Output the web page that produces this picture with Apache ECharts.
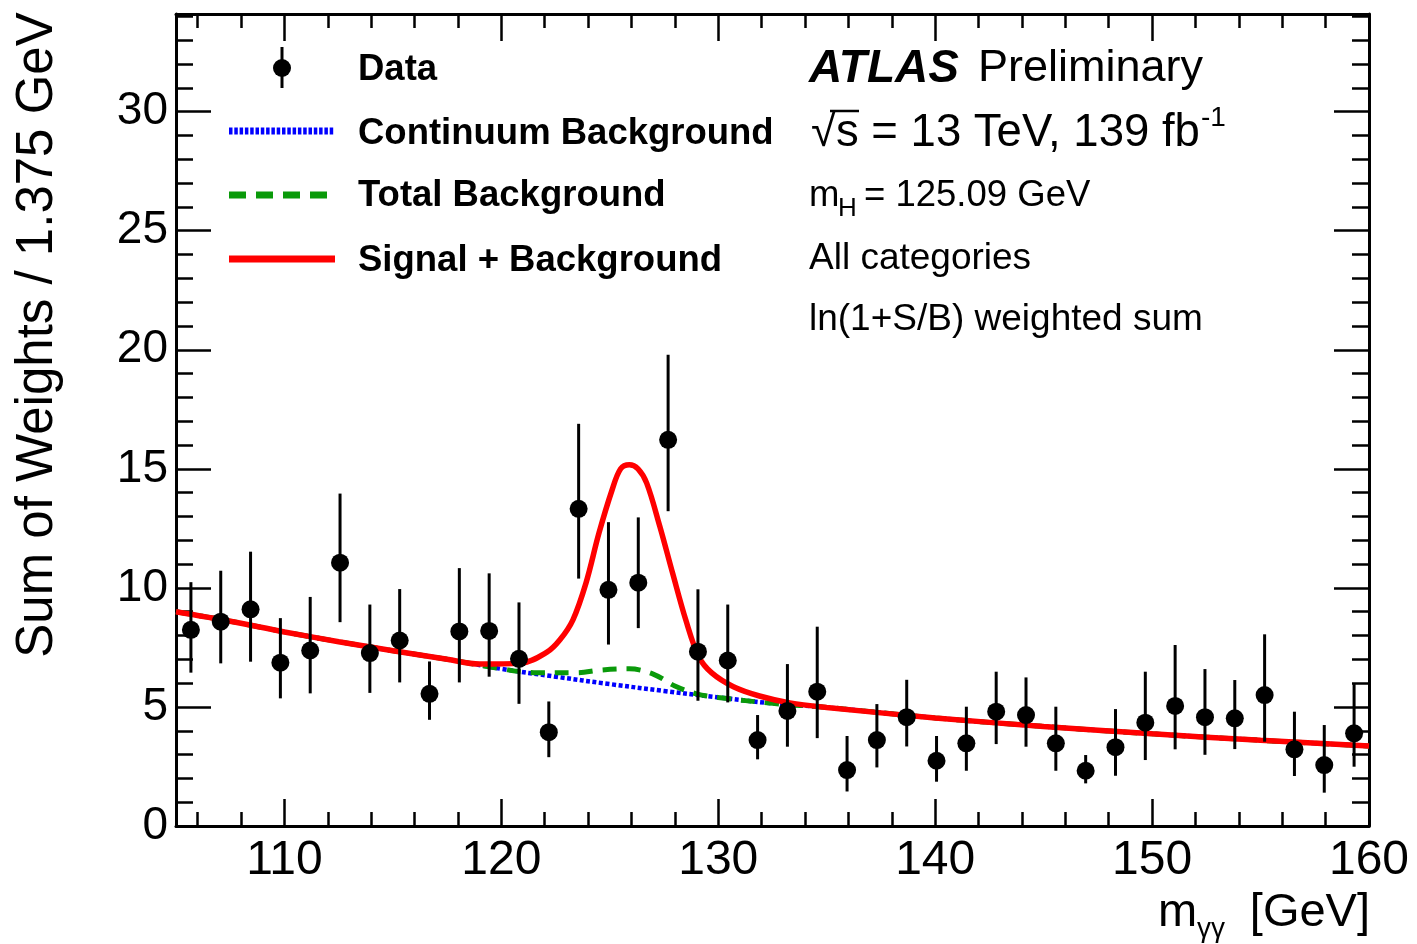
<!DOCTYPE html>
<html><head><meta charset="utf-8">
<script src="https://cdn.jsdelivr.net/npm/echarts@6/dist/echarts.min.js"></script>
<style>html,body{margin:0;padding:0;background:#fff}#c{width:1417px;height:944px}</style>
</head><body><div id="c"></div>
<script>
// ---- data ----
const binCenters = [105.6875, 107.0625, 108.4375, 109.8125, 111.1875, 112.5625, 113.9375, 115.3125, 116.6875, 118.0625,
  119.4375, 120.8125, 122.1875, 123.5625, 124.9375, 126.3125, 127.6875, 129.0625, 130.4375, 131.8125,
  133.1875, 134.5625, 135.9375, 137.3125, 138.6875, 140.0625, 141.4375, 142.8125, 144.1875, 145.5625,
  146.9375, 148.3125, 149.6875, 151.0625, 152.4375, 153.8125, 155.1875, 156.5625, 157.9375, 159.3125];
const dataY = [8.24, 8.58, 9.10, 6.86, 7.37, 11.06, 7.26, 7.79, 5.55, 8.17,
  8.19, 7.02, 3.94, 13.32, 9.92, 10.22, 16.22, 7.32, 6.95, 3.61,
  4.83, 5.64, 2.35, 3.61, 4.57, 2.74, 3.47, 4.80, 4.66, 3.47,
  2.32, 3.31, 4.34, 5.04, 4.57, 4.52, 5.50, 3.22, 2.56, 3.89];
const errUp = [2.0, 2.14, 2.42, 1.87, 2.25, 2.9, 2.04, 2.16, 1.36, 2.66,
  2.42, 2.37, 1.29, 3.57, 2.84, 2.74, 3.57, 2.62, 2.35, 1.05,
  1.97, 2.73, 1.43, 1.51, 1.57, 1.04, 1.54, 1.68, 1.58, 1.54,
  0.66, 1.6, 2.14, 2.56, 2.02, 1.61, 2.55, 1.58, 1.68, 2.07];
const errDown = [1.8, 1.75, 2.2, 1.5, 1.8, 2.5, 1.67, 1.76, 1.09, 2.14,
  1.92, 1.89, 1.05, 2.93, 2.3, 1.91, 3.0, 2.06, 1.76, 0.81,
  1.5, 1.95, 0.9, 1.15, 1.23, 0.88, 1.15, 1.36, 1.33, 1.15,
  0.53, 1.2, 1.57, 1.82, 1.58, 1.29, 1.96, 1.12, 1.16, 1.4];

const contX = [105, 107.5, 110, 112.5, 115, 117.5, 120, 122.5, 125, 127.5, 130, 132.5, 135, 140, 145, 150, 155, 160];
const contY = [9.0, 8.6, 8.15, 7.74, 7.36, 7.0, 6.6, 6.27, 5.96, 5.67, 5.4, 5.15, 4.98, 4.54, 4.18, 3.87, 3.6, 3.36];

const totX = [105, 107.5, 110, 112.5, 115, 117.5, 120, 121.5, 123.5, 124.6, 125.9, 127, 128, 129, 130, 132.5, 135, 140, 145, 150, 155, 160];
const totY = [9.0, 8.6, 8.15, 7.74, 7.36, 7.0, 6.6, 6.44, 6.44, 6.55, 6.6, 6.38, 5.88, 5.55, 5.4, 5.15, 4.98, 4.54, 4.18, 3.87, 3.6, 3.36];

const sbX = [105, 107.5, 110, 112.5, 115, 117.5, 119, 120.9, 122.1, 122.7, 123.3, 123.9, 124.5, 125.1, 125.5, 125.9,
  126.3, 126.7, 127.3, 127.9, 128.5, 129.1, 129.7, 130.7, 131.9, 133.3, 135, 140, 145, 150, 155, 160];
const sbY = [9.0, 8.6, 8.15, 7.74, 7.36, 7.0, 6.8, 6.84, 7.3, 7.82, 8.66, 10.2, 12.3, 14.1, 15.0, 15.17,
  15.0, 14.4, 12.6, 10.6, 8.66, 7.11, 6.43, 5.85, 5.46, 5.17, 4.98, 4.54, 4.18, 3.87, 3.6, 3.36];

const xMajorTicks = [110, 120, 130, 140, 150, 160];
const xMinorTicks = [106, 108, 112, 114, 116, 118, 122, 124, 126, 128, 132, 134, 136, 138, 142, 144, 146, 148, 152, 154, 156, 158];
const yMajorTicks = [0, 5, 10, 15, 20, 25, 30];
const yMinorTicks = [1, 2, 3, 4, 6, 7, 8, 9, 11, 12, 13, 14, 16, 17, 18, 19, 21, 22, 23, 24, 26, 27, 28, 29, 31, 32, 33, 34];

const legendLabels = ['Data', 'Continuum Background', 'Total Background', 'Signal + Background'];
const infoLines = ['All categories', 'ln(1+S/B) weighted sum'];

// ---- chart ----
const FONT = 'Liberation Sans, Arial, Helvetica, sans-serif';
const X_MIN = 105, X_MAX = 160, Y_MIN = 0, Y_MAX = 34.1;
const BLUE = '#0000ff', GREEN = '#0a9a0a', RED = '#ff0000';

function xAxisCfg(pos, ticks, len, major) {
  return {
    type: 'value', min: X_MIN, max: X_MAX, position: pos, gridIndex: 0,
    axisLine: { show: major, onZero: false, lineStyle: { color: '#000', width: 3 } },
    axisTick: { show: true, inside: true, length: len, customValues: ticks, lineStyle: { color: '#000', width: 2.5 } },
    axisLabel: (major && pos === 'bottom')
      ? { show: true, customValues: ticks, margin: 11, fontSize: 48, color: '#000', fontFamily: FONT }
      : { show: false },
    splitLine: { show: false }, minorTick: { show: false }
  };
}
function yAxisCfg(pos, ticks, len, major) {
  return {
    type: 'value', min: Y_MIN, max: Y_MAX, position: pos, gridIndex: 0,
    axisLine: { show: major, onZero: false, lineStyle: { color: '#000', width: 3 } },
    axisTick: { show: true, inside: true, length: len, customValues: ticks, lineStyle: { color: '#000', width: 2.5 } },
    axisLabel: (major && pos === 'left')
      ? { show: true, customValues: ticks, margin: 8, fontSize: 46, color: '#000', fontFamily: FONT }
      : { show: false },
    splitLine: { show: false }, minorTick: { show: false }
  };
}

function txt(x, y, text, size, opts) {
  return Object.assign({
    type: 'text', x: x, y: y, silent: true, z: 100,
    style: Object.assign({ text: text, fontSize: size, fontFamily: FONT, fill: '#000', align: 'left', verticalAlign: 'middle' }, (opts && opts.style) || {})
  }, (opts && opts.el) || {});
}
const BOLD = { style: { fontWeight: 'bold' } };

const graphics = [
  // legend: data marker
  { type: 'line', silent: true, z: 100, shape: { x1: 282, y1: 47, x2: 282, y2: 88 }, style: { stroke: '#000', lineWidth: 3 } },
  { type: 'circle', silent: true, z: 100, shape: { cx: 282, cy: 68, r: 9 }, style: { fill: '#000' } },
  // legend lines
  { type: 'line', silent: true, z: 100, shape: { x1: 229, y1: 131, x2: 335, y2: 131 }, style: { stroke: BLUE, lineWidth: 7, lineDash: [3.5, 1.8] } },
  { type: 'line', silent: true, z: 100, shape: { x1: 229, y1: 195, x2: 328, y2: 195 }, style: { stroke: GREEN, lineWidth: 7, lineDash: [17, 10] } },
  { type: 'line', silent: true, z: 100, shape: { x1: 229, y1: 259, x2: 335, y2: 259 }, style: { stroke: RED, lineWidth: 7 } },
  txt(358, 70, legendLabels[0], 36.5, BOLD),
  txt(358, 134, legendLabels[1], 36.5, BOLD),
  txt(358, 196, legendLabels[2], 36.5, BOLD),
  txt(358, 261, legendLabels[3], 36.5, BOLD),
  // ATLAS label
  txt(809, 69, 'ATLAS', 46, { style: { fontWeight: 'bold', fontStyle: 'italic' } }),
  txt(978, 69, 'Preliminary', 45),
  txt(811, 133, '\u221As = 13 TeV, 139 fb', 45.5),
  txt(1201, 118, '-1', 28),
  { type: 'line', silent: true, z: 100, shape: { x1: 830, y1: 111, x2: 859, y2: 111 }, style: { stroke: '#000', lineWidth: 2.5 } },
  txt(809, 196, 'm', 36.5),
  txt(838, 209, 'H', 26),
  txt(864, 196, '= 125.09 GeV', 36.5),
  txt(809, 259, infoLines[0], 37),
  txt(809, 320, infoLines[1], 37),
  // axis titles
  txt(1158, 913, 'm', 47),
  txt(1197, 929, '\u03B3\u03B3', 28),
  txt(1370, 913, '[GeV]', 47, { style: { align: 'right' } }),
  txt(38, 335, 'Sum of Weights / 1.375 GeV', 51, { style: { align: 'center' }, el: { rotation: Math.PI / 2 } })
];

const chart = echarts.init(document.getElementById('c'), null, { renderer: 'canvas' });
chart.setOption({
  animation: false,
  backgroundColor: '#fff',
  grid: { left: 176, right: 48, top: 14, bottom: 118, containLabel: false, outerBoundsMode: 'none' },
  xAxis: [
    xAxisCfg('bottom', xMajorTicks, 27, true),
    xAxisCfg('bottom', xMinorTicks, 14, false),
    xAxisCfg('top', xMajorTicks, 27, true),
    xAxisCfg('top', xMinorTicks, 14, false)
  ],
  yAxis: [
    yAxisCfg('left', yMajorTicks, 35, true),
    yAxisCfg('left', yMinorTicks, 17, false),
    yAxisCfg('right', yMajorTicks, 35, true),
    yAxisCfg('right', yMinorTicks, 17, false)
  ],
  series: [
    {
      name: 'Continuum Background', type: 'line', xAxisIndex: 0, yAxisIndex: 0, z: 2,
      data: contX.map((x, i) => [x, contY[i]]), smooth: 0.35, showSymbol: false, silent: true,
      lineStyle: { color: BLUE, width: 4.5, type: [4, 2.5] }
    },
    {
      name: 'Total Background', type: 'line', xAxisIndex: 0, yAxisIndex: 0, z: 3,
      data: totX.map((x, i) => [x, totY[i]]), smooth: 0.35, showSymbol: false, silent: true,
      lineStyle: { color: GREEN, width: 5, type: [14, 10] }
    },
    {
      name: 'Signal + Background', type: 'line', xAxisIndex: 0, yAxisIndex: 0, z: 4,
      data: sbX.map((x, i) => [x, sbY[i]]), smooth: 0.35, showSymbol: false, silent: true,
      lineStyle: { color: RED, width: 5.5 }
    },
    {
      name: 'errors', type: 'custom', xAxisIndex: 0, yAxisIndex: 0, z: 5, silent: true,
      data: binCenters.map((x, i) => [x, dataY[i], errUp[i], errDown[i]]),
      encode: { x: 0, y: 1 },
      renderItem: function (params, api) {
        const x = api.value(0), y = api.value(1);
        const p1 = api.coord([x, y + api.value(2)]);
        const p2 = api.coord([x, y - api.value(3)]);
        return { type: 'line', shape: { x1: p1[0], y1: p1[1], x2: p2[0], y2: p2[1] }, style: { stroke: '#000', lineWidth: 3 } };
      }
    },
    {
      name: 'Data', type: 'scatter', xAxisIndex: 0, yAxisIndex: 0, z: 6, silent: true,
      data: binCenters.map((x, i) => [x, dataY[i]]), symbol: 'circle', symbolSize: 18,
      itemStyle: { color: '#000', opacity: 1 }
    }
  ],
  graphic: { elements: graphics }
});
</script>
</body></html>
